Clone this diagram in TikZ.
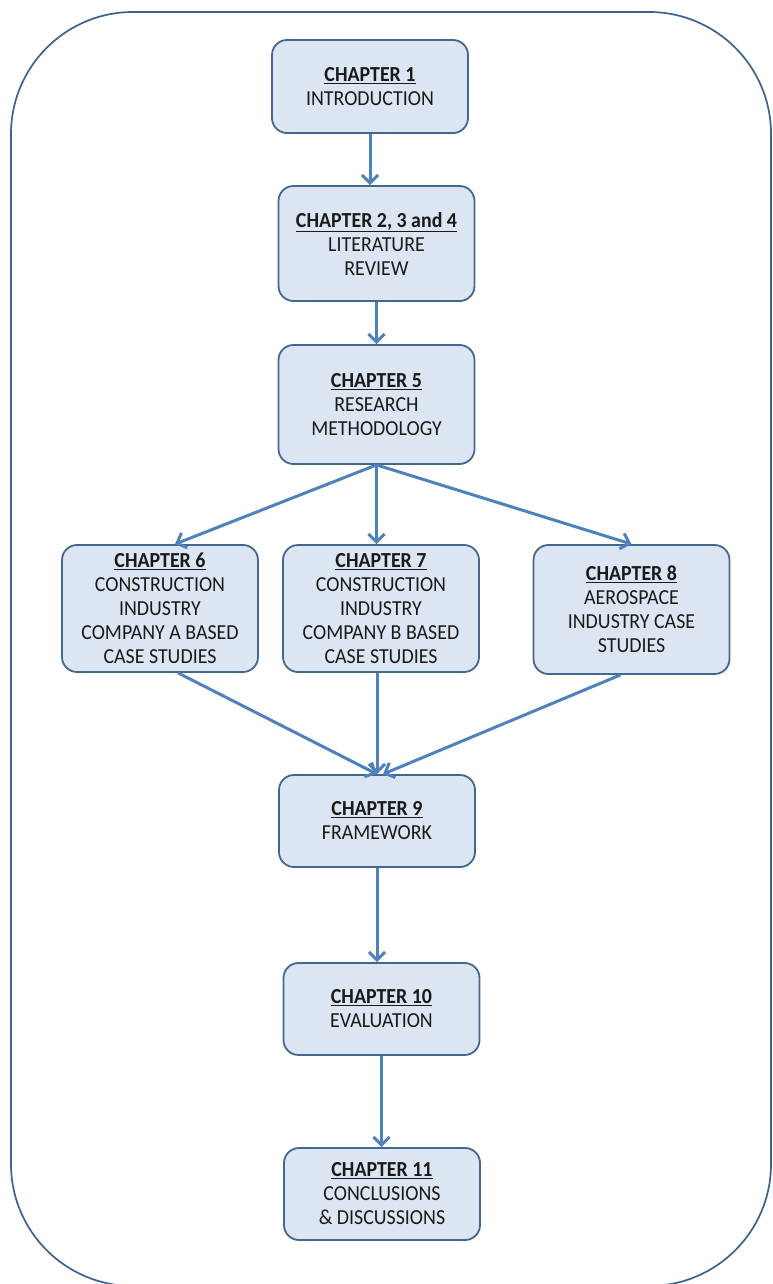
\documentclass[tikz,border=0pt]{standalone}
\usepackage{fontspec}
\setmainfont{Carlito}[FakeStretch=0.93]
\usetikzlibrary{arrows.meta,calc}
\definecolor{boxfill}{HTML}{DCE6F2}
\definecolor{boxline}{HTML}{44678F}
\definecolor{flow}{HTML}{4F81BD}
\definecolor{framecol}{HTML}{3E628E}
\definecolor{txt}{HTML}{1A1A1A}
\newcommand{\chaptitle}[1]{\underline{\textbf{#1}}}
\begin{document}
\begin{tikzpicture}[x=1pt,y=-1pt,
  chapbox/.style={draw=boxline, line width=1.8pt, fill=boxfill, rounded corners=15pt,
    align=center, text=txt, font=\fontsize{21.4}{24}\selectfont, inner sep=0pt,
    minimum width=196pt},
  flowarrow/.style={draw=flow, line width=3pt,
    -{Straight Barb[length=8pt,width=16pt]}}
]
\useasboundingbox (0,0) rectangle (772,1284);
% outer frame
\draw[framecol, line width=1.7pt, rounded corners=122pt] (11,12) rectangle (771,1286);

% chapter boxes
\node[chapbox, minimum height=93pt]  (c1)  at (370,86.5)   {\chaptitle{CHAPTER 1}\\INTRODUCTION};
\node[chapbox, minimum height=115pt] (c2)  at (376.5,243.5) {\chaptitle{CHAPTER 2, 3 and 4}\\LITERATURE\\REVIEW};
\node[chapbox, minimum height=119pt] (c5)  at (376.5,404.5) {\chaptitle{CHAPTER 5}\\RESEARCH\\METHODOLOGY};
\node[chapbox, minimum height=127pt] (c6)  at (160,608.5)   {\chaptitle{CHAPTER 6}\\CONSTRUCTION\\INDUSTRY\\COMPANY A BASED\\CASE STUDIES};
\node[chapbox, minimum height=127pt] (c7)  at (381,608.5)   {\chaptitle{CHAPTER 7}\\CONSTRUCTION\\INDUSTRY\\COMPANY B BASED\\CASE STUDIES};
\node[chapbox, minimum height=129pt] (c8)  at (631.5,609.5) {\chaptitle{CHAPTER 8}\\AEROSPACE\\INDUSTRY CASE\\STUDIES};
\node[chapbox, minimum height=92pt]  (c9)  at (377,821)     {\chaptitle{CHAPTER 9}\\FRAMEWORK};
\node[chapbox, minimum height=92pt]  (c10) at (381.5,1009)  {\chaptitle{CHAPTER 10}\\EVALUATION};
\node[chapbox, minimum height=92pt]  (c11) at (382,1194)    {\chaptitle{CHAPTER 11}\\CONCLUSIONS\\\& DISCUSSIONS};

% connectors
\draw[flowarrow] (c1.south) -- (c1.south |- c2.north);
\draw[flowarrow] (c2.south) -- (c2.south |- c5.north);
\draw[flowarrow] (c5.south) -- ([xshift=15pt]c6.north);
\draw[flowarrow] (c5.south) -- (c5.south |- c7.north);
\draw[flowarrow] (c5.south) -- (c8.north);
\draw[flowarrow] ([xshift=18pt]c6.south) -- (c9.north);
\draw[flowarrow] (c9.north |- c7.south) -- (c9.north);
\draw[flowarrow] ([xshift=-11pt]c8.south) -- ([xshift=6pt]c9.north);
\draw[flowarrow] (c9.south) -- (c9.south |- c10.north);
\draw[flowarrow] (c10.south) -- (c10.south |- c11.north);
\end{tikzpicture}
\end{document}
